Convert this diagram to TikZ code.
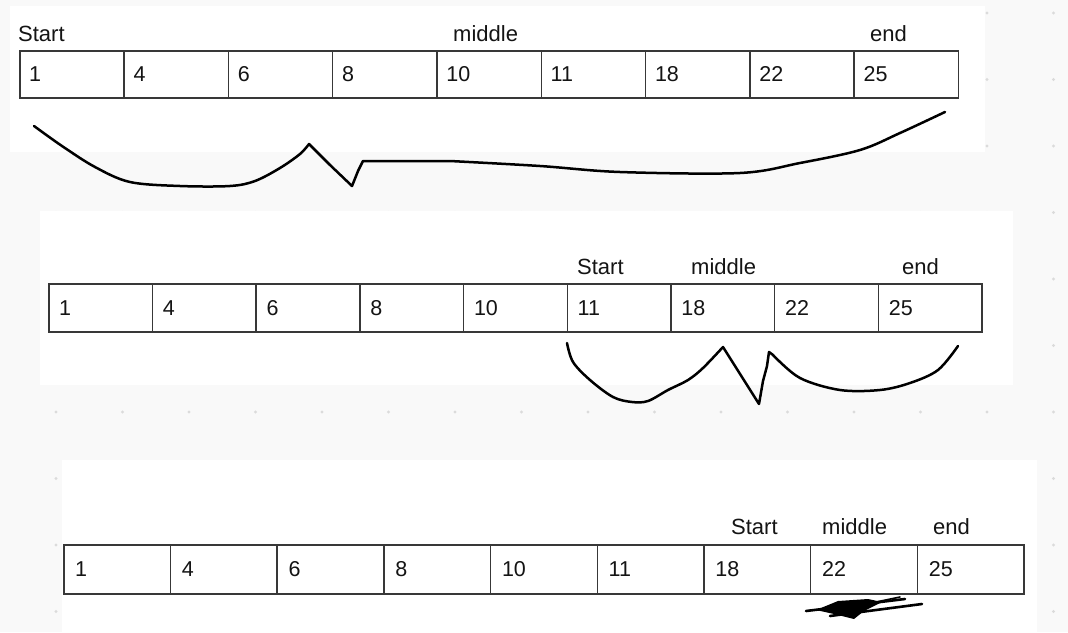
\documentclass[tikz,border=0pt]{standalone}
\usepackage{fontspec}
\setmainfont{Liberation Sans}
\begin{document}
\begin{tikzpicture}[x=1pt,y=-1pt,
  cell/.style={draw=black!78,line width=1.5pt,fill=white,anchor=north west,inner sep=0pt},
  num/.style={anchor=west,inner sep=0pt,text=black!92,font=\fontsize{21.5}{24}\selectfont},
  lbl/.style={anchor=base west,inner sep=0pt,text=black!92,font=\fontsize{22}{26}\selectfont},
  hand/.style={line width=2.5pt,black,line cap=round,line join=round},
  panel/.style={fill=white,draw=none}]
\useasboundingbox (0,0) rectangle (1068,632);
\fill[black!2.5] (0,0) rectangle (1068,632);
% dot grid
\foreach \i in {0,...,15}{
  \foreach \j in {0,...,9}{
    \fill[black!14] ({56+66.5*\i},{13+66.5*\j}) circle (1.6pt);
  }
}
% panels
\fill[panel] (10,6) rectangle (985,152);
\fill[panel] (40,211) rectangle (1013,385);
\fill[panel] (62,460) rectangle (1037,632);
% row 1
\foreach \v [count=\k] in {1,4,6,8,10,11,18,22,25}{
  \node[cell,minimum width=104.3pt,minimum height=47pt] (a\k) at ({19+104.3*(\k-1)},50) {};
  \node[num] (an\k) at ([xshift=10pt]a\k.west) {\v};
}
\node[lbl] (as) at (18,41) {Start};
\node[lbl] (am) at (453,41) {middle};
\node[lbl] (ae) at (870,41) {end};
% row 2
\foreach \v [count=\k] in {1,4,6,8,10,11,18,22,25}{
  \node[cell,minimum width=103.7pt,minimum height=48pt] (b\k) at ({48+103.7*(\k-1)},283) {};
  \node[num] (bn\k) at ([xshift=11pt]b\k.west) {\v};
}
\node[lbl] (bs) at (577,274) {Start};
\node[lbl] (bm) at (691,274) {middle};
\node[lbl] (be) at (902,274) {end};
% row 3
\foreach \v [count=\k] in {1,4,6,8,10,11,18,22,25}{
  \node[cell,minimum width=106.7pt,minimum height=49pt] (c\k) at ({63+106.7*(\k-1)},544) {};
  \node[num] (cn\k) at ([xshift=12pt]c\k.west) {\v};
}
\node[lbl] (cs) at (731,534) {Start};
\node[lbl] (cm) at (822,534) {middle};
\node[lbl] (ce) at (933,534) {end};
% hand-drawn curve 1
\draw[hand] plot[smooth,tension=0.55] coordinates {(34,126) (62,146) (95,167) (130,182) (180,186) (230,186) (255,181) (280,168) (300,154) (309,144)}
  -- (330,165) -- (352,186) -- (358,171) -- (363,161)
  -- (450,161) plot[smooth,tension=0.55] coordinates {(450,161) (540,166) (620,172) (740,173) (800,163) (860,150) (900,133) (945,112)};
% hand-drawn curve 2
\draw[hand] plot[smooth,tension=0.55] coordinates {(567,343) (573,362) (590,380) (613,397) (632,402) (648,401) (668,390) (688,380) (703,368) (723,347)}
  -- (759,404) -- (763,381) -- (767,366) -- (769,352) -- (773,355)
  plot[smooth,tension=0.55] coordinates {(773,355) (800,378) (840,390) (880,390) (910,383) (938,370) (958,346)};
% scribble
\draw[line width=2.6pt,line cap=round] (806,611) -- (905,599);
\draw[line width=2.6pt,line cap=round] (830,616) -- (922,604);
\draw[line width=1.6pt,line cap=round] (852,607) -- (900,597);
\fill (816,610) -- (838,601) -- (868,599) -- (882,602) -- (864,611) -- (854,619) -- (834,614) -- cycle;
\end{tikzpicture}
\end{document}
